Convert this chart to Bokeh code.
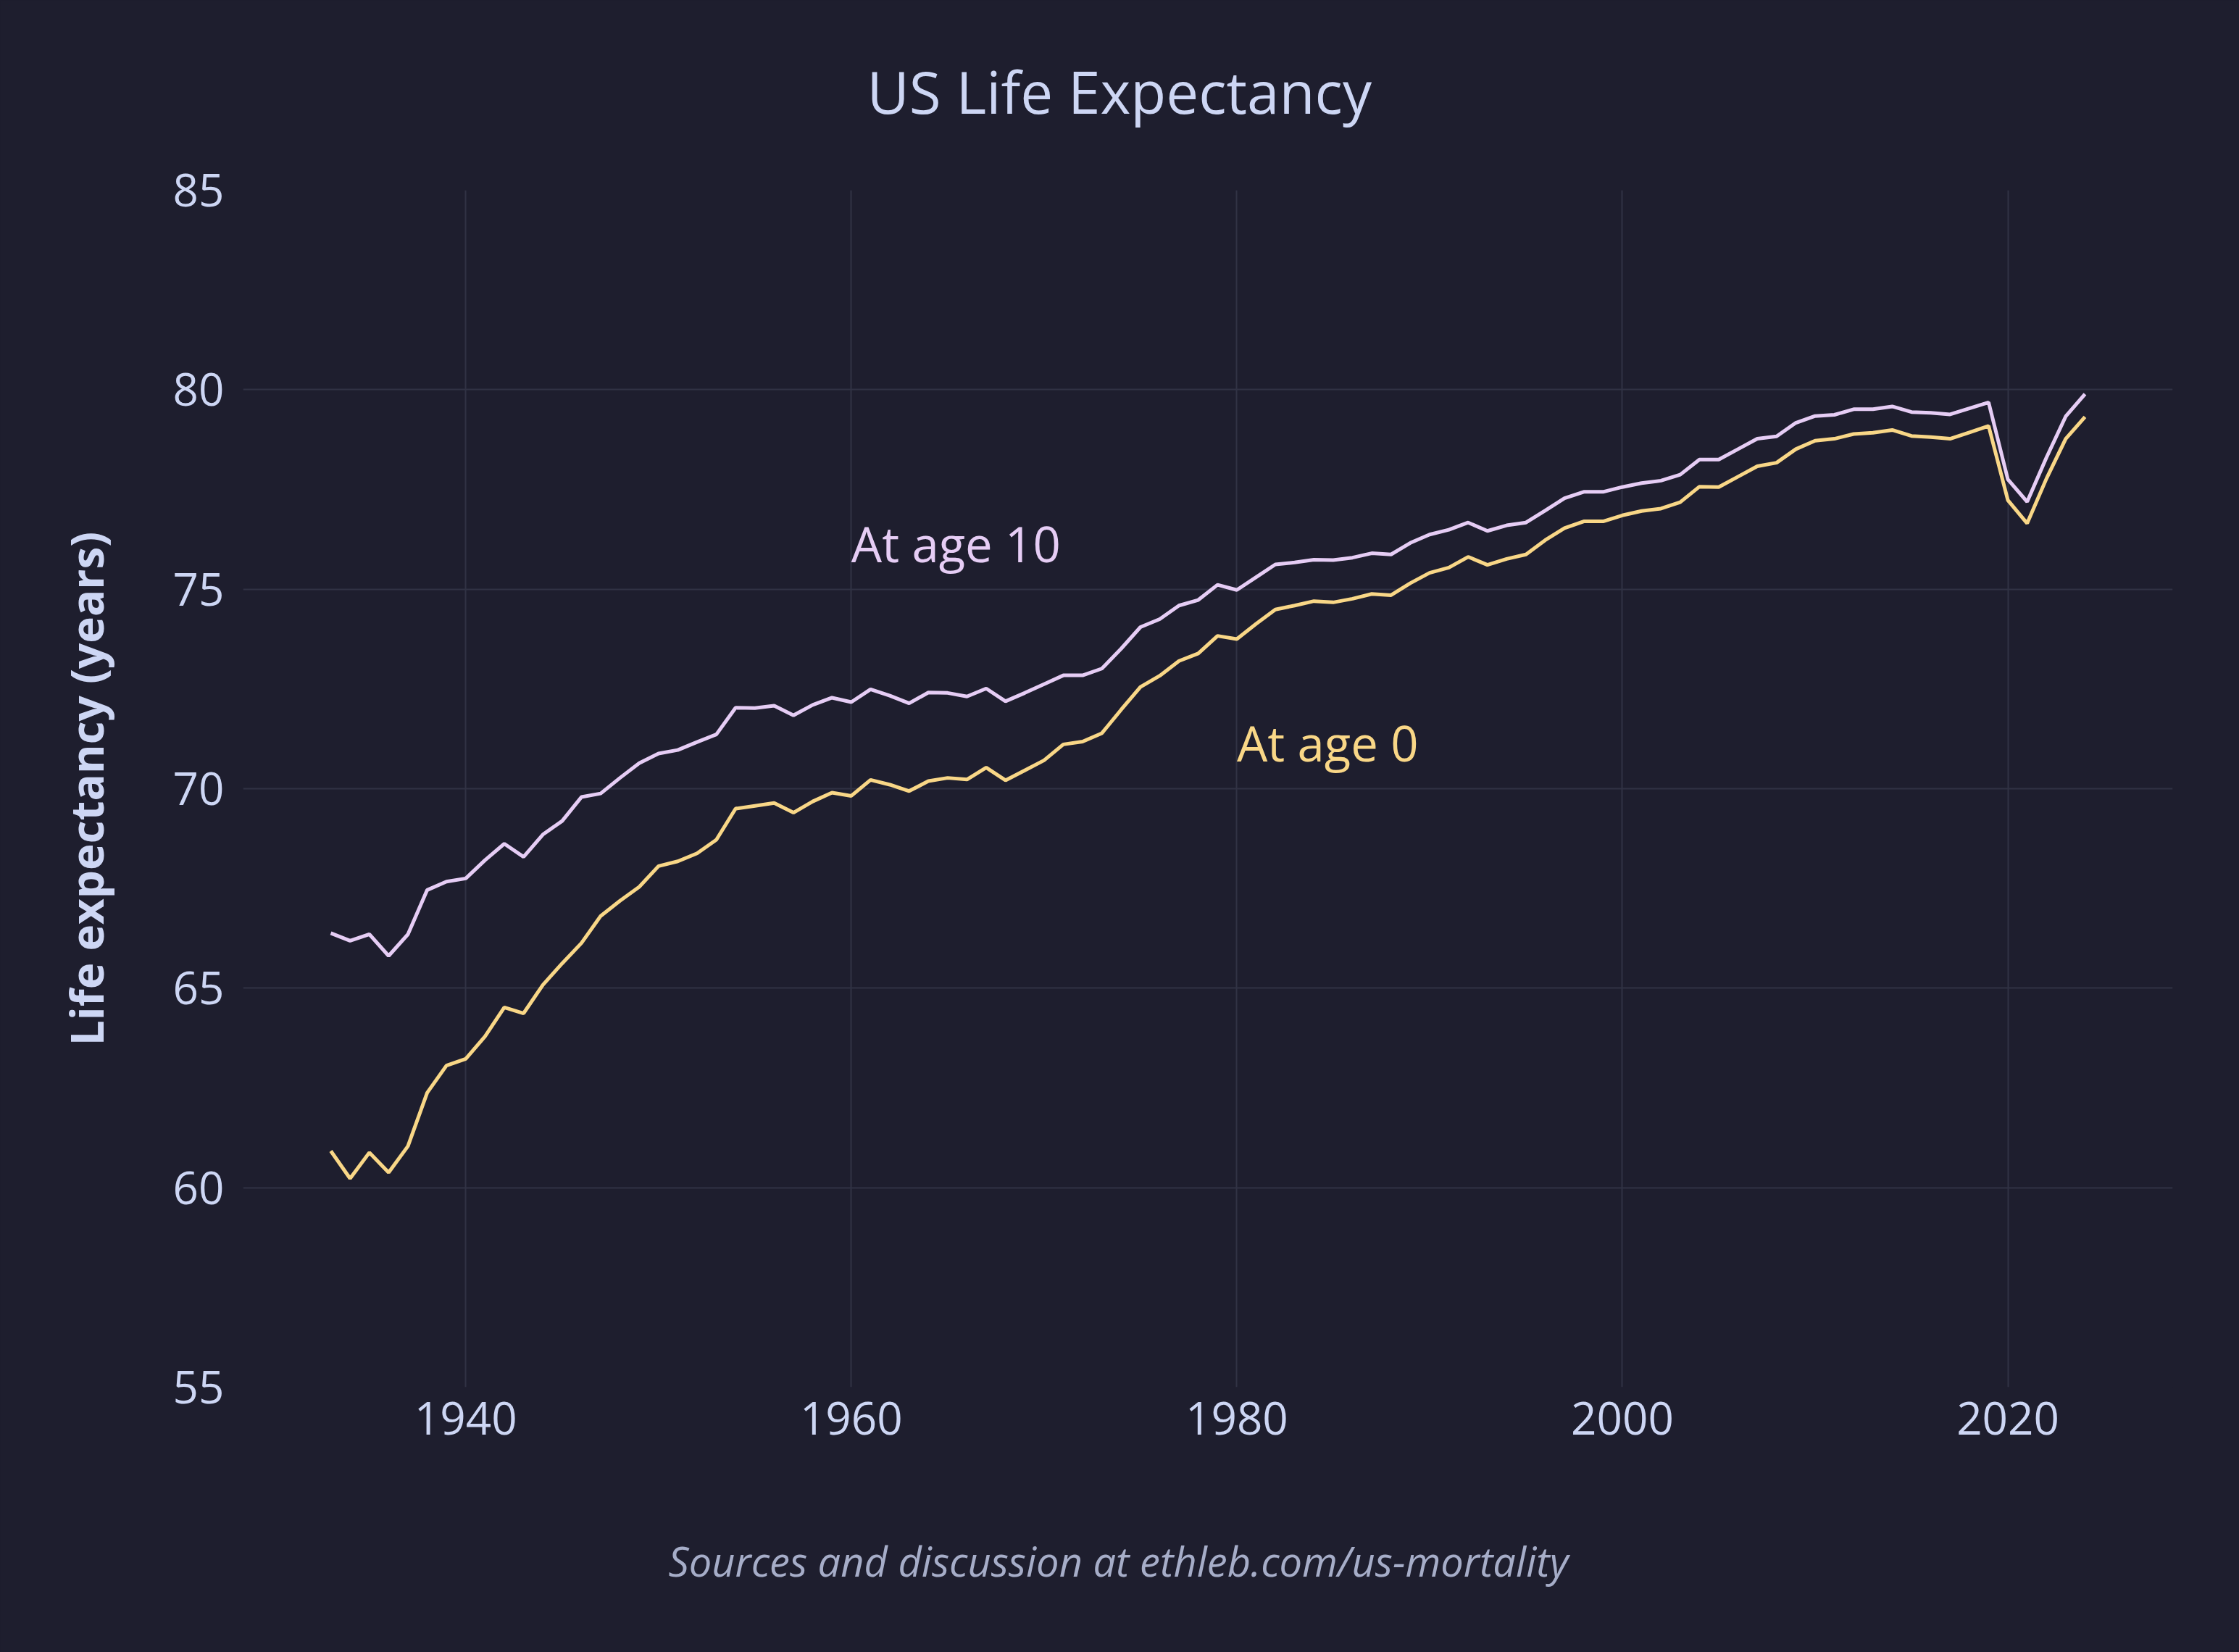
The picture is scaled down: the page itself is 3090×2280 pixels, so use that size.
from bokeh.plotting import figure
from bokeh.models import Range1d, Label, FixedTicker, Title, LinearAxis
from bokeh.embed import file_html
from bokeh.resources import INLINE

years = list(range(1933, 2025))

at_age_0 = [
    60.92, 60.23, 60.88, 60.38, 61.04, 62.38, 63.06, 63.23, 63.79, 64.52,
    64.37, 65.08, 65.62, 66.13, 66.81, 67.19, 67.54, 68.06, 68.18, 68.38,
    68.72, 69.50, 69.57, 69.64, 69.40, 69.68, 69.90, 69.82, 70.22, 70.10,
    69.94, 70.19, 70.27, 70.23, 70.53, 70.21, 70.46, 70.71, 71.11, 71.18,
    71.39, 71.98, 72.55, 72.83, 73.20, 73.39, 73.83, 73.75, 74.13, 74.49,
    74.59, 74.70, 74.67, 74.76, 74.88, 74.85, 75.15, 75.41, 75.54, 75.81,
    75.61, 75.76, 75.87, 76.23, 76.53, 76.70, 76.70, 76.85, 76.96, 77.02,
    77.18, 77.57, 77.56, 77.82, 78.08, 78.17, 78.51, 78.72, 78.77, 78.89,
    78.92, 78.99, 78.84, 78.81, 78.77, 78.93, 79.09, 77.23, 76.65, 77.77,
    78.77, 79.32,
]

at_age_10 = [
    66.38, 66.19, 66.35, 65.81, 66.35, 67.46, 67.67, 67.75, 68.21, 68.62,
    68.29, 68.85, 69.19, 69.79, 69.88, 70.27, 70.64, 70.88, 70.97, 71.17,
    71.36, 72.03, 72.02, 72.08, 71.84, 72.10, 72.28, 72.17, 72.49, 72.33,
    72.14, 72.41, 72.40, 72.31, 72.51, 72.19, 72.40, 72.62, 72.84, 72.84,
    73.01, 73.51, 74.05, 74.25, 74.59, 74.73, 75.11, 74.98, 75.30, 75.62,
    75.67, 75.74, 75.73, 75.79, 75.90, 75.87, 76.16, 76.37, 76.49, 76.67,
    76.46, 76.60, 76.67, 76.97, 77.28, 77.44, 77.44, 77.56, 77.66, 77.72,
    77.87, 78.25, 78.25, 78.51, 78.77, 78.83, 79.17, 79.34, 79.37, 79.51,
    79.51, 79.58, 79.44, 79.42, 79.38, 79.53, 79.68, 77.75, 77.19, 78.30,
    79.33, 79.89,
]

x_ticks = [1940, 1960, 1980, 2000, 2020]
y_ticks = [55, 60, 65, 70, 75, 80, 85]

title_text = "US Life Expectancy"
y_label_text = "Life expectancy (years)"
footer_text = "Sources and discussion at ethleb.com/us-mortality"
label_10 = "At age 10"
label_0 = "At age 0"

BG = "#1e1e2e"
TEXT = "#cdd6f4"
GRID = "#313244"
C10 = "#e6cdf5"
C0 = "#f9d787"
FOOT = "#a6adc8"
FONT = "Open Sans"

span = years[-1] - years[0]
x_start = years[0] - 0.05 * span
x_end = years[-1] + 0.05 * span

p = figure(
    width=3090, height=2280,
    output_backend="svg", toolbar_location=None,
    x_range=Range1d(x_start, x_end), y_range=Range1d(55, 85),
    min_border_left=335, min_border_right=92,
    min_border_top=262, min_border_bottom=366,
    background_fill_color=BG, border_fill_color=BG,
)
p.styles = {"background-color": BG}
p.outline_line_color = None

p.line(years, at_age_10, line_color=C10, line_width=5)
p.line(years, at_age_0, line_color=C0, line_width=5)

for ax in (p.xaxis, p.yaxis):
    ax.axis_line_color = None
    ax.major_tick_line_color = None
    ax.minor_tick_line_color = None
    ax.major_label_text_color = TEXT
    ax.major_label_text_font = FONT
    ax.major_label_text_font_size = "62px"

p.xaxis.ticker = FixedTicker(ticks=x_ticks)
p.yaxis.ticker = FixedTicker(ticks=y_ticks)
p.xaxis.major_label_standoff = 14
p.yaxis.major_label_standoff = 20

p.yaxis.axis_label = y_label_text
p.yaxis.axis_label_text_font = FONT
p.yaxis.axis_label_text_font_style = "bold"
p.yaxis.axis_label_text_font_size = "62px"
p.yaxis.axis_label_text_color = TEXT
p.yaxis.axis_label_standoff = 75

p.xgrid.ticker = FixedTicker(ticks=x_ticks)
p.ygrid.ticker = FixedTicker(ticks=y_ticks)
p.grid.grid_line_color = GRID
p.grid.grid_line_width = 2

p.add_layout(Label(x=1960, y=76, text=label_10, text_color=C10,
                   text_font=FONT, text_font_size="67px",
                   text_align="left", text_baseline="middle", y_offset=8))
p.add_layout(Label(x=1980, y=71, text=label_0, text_color=C0,
                   text_font=FONT, text_font_size="67px",
                   text_align="left", text_baseline="middle", y_offset=8))


def spacer(size):
    # blank axis (one invisible tick, empty label) that only reserves space
    t = x_ticks[0]
    return LinearAxis(ticker=FixedTicker(ticks=[t]),
                      major_label_overrides={t: ""},
                      major_tick_out=size, major_tick_in=0,
                      minor_tick_out=0, minor_tick_in=0,
                      major_label_standoff=0,
                      major_label_text_font_size="1px",
                      major_label_text_color=BG,
                      axis_line_color=None,
                      major_tick_line_color=BG, major_tick_line_width=1,
                      minor_tick_line_color=None)


p.add_layout(spacer(16), "above")

p.title.text = title_text
p.title.align = "left"
p.title.offset = 861
p.title.vertical_align = "bottom"
p.title.standoff = 134
p.title.text_font = FONT
p.title.text_font_style = "normal"
p.title.text_font_size = "80px"
p.title.text_color = TEXT

p.add_layout(spacer(56), "below")
footer = Title(text=footer_text, align="left", offset=587,
               vertical_align="bottom", standoff=150,
               text_font=FONT, text_font_style="italic",
               text_font_size="56px", text_color=FOOT)
p.add_layout(footer, "below")

open("out.html", "w").write(file_html(p, INLINE))
